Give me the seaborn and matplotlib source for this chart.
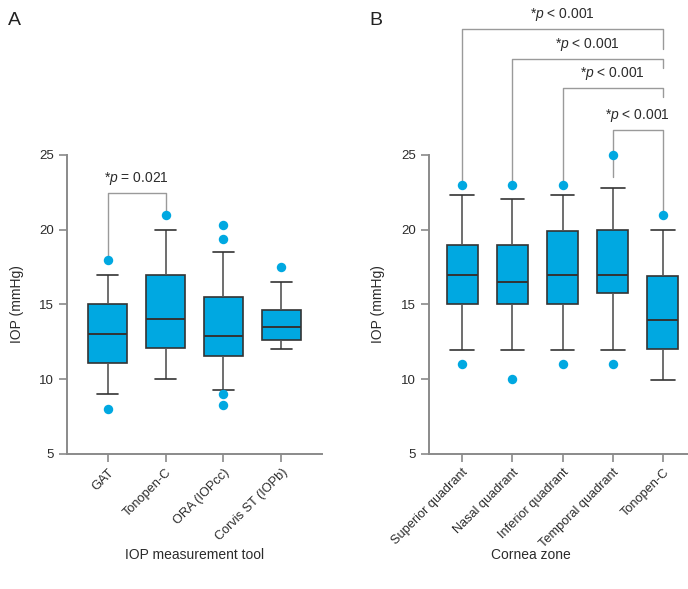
import numpy as np
import pandas as pd
import matplotlib
matplotlib.use('Agg')
import matplotlib.pyplot as plt
import seaborn as sns

tools = ['GAT', 'Tonopen-C', 'ORA (IOPcc)', 'Corvis ST (IOPb)']
tool_lo = [9.0, 10.0, 9.3, 12.0]
tool_q1 = [11.1, 12.1, 11.55, 12.6]
tool_med = [13.0, 14.0, 12.9, 13.5]
tool_q3 = [15.0, 17.0, 15.5, 14.6]
tool_hi = [17.0, 20.0, 18.5, 16.5]
tool_out_cat = ['GAT', 'GAT', 'Tonopen-C', 'ORA (IOPcc)', 'ORA (IOPcc)',
                'ORA (IOPcc)', 'ORA (IOPcc)', 'Corvis ST (IOPb)']
tool_out_val = [18.0, 8.0, 21.0, 20.3, 19.4, 9.0, 8.3, 17.5]

# Panel B - cornea zones
zones = ['Superior quadrant', 'Nasal quadrant', 'Inferior quadrant',
         'Temporal quadrant', 'Tonopen-C']
zone_lo = [11.95, 11.95, 11.95, 11.95, 9.95]
zone_q1 = [15.05, 15.0, 15.0, 15.8, 12.05]
zone_med = [17.0, 16.5, 17.0, 17.0, 13.95]
zone_q3 = [18.95, 18.95, 19.93, 19.95, 16.93]
zone_hi = [22.3, 22.05, 22.3, 22.8, 20.0]
zone_out_cat = ['Superior quadrant', 'Superior quadrant', 'Nasal quadrant',
                'Nasal quadrant', 'Inferior quadrant', 'Inferior quadrant',
                'Temporal quadrant', 'Temporal quadrant', 'Tonopen-C']
zone_out_val = [23.0, 11.0, 23.0, 10.0, 23.0, 11.0, 25.0, 11.0, 21.0]

# significance brackets: (i, j, bar level, left end, right end, label)
tool_sig = [(0, 1, 22.45, 18.1, 21.0, r'*$\mathit{p}$ = 0.021')]
zone_sig = [(0, 4, 33.4, 23.0, 32.1, r'*$\mathit{p}$ < 0.001'),
            (1, 4, 31.4, 23.0, 30.85, r'*$\mathit{p}$ < 0.001'),
            (2, 4, 29.45, 23.0, 28.85, r'*$\mathit{p}$ < 0.001'),
            (3, 4, 26.65, 23.5, 21.0, r'*$\mathit{p}$ < 0.001')]

sns.set_style('ticks')
plt.rcParams['font.family'] = ['Liberation Sans', 'DejaVu Sans']
plt.rcParams['mathtext.fontset'] = 'custom'
plt.rcParams['mathtext.rm'] = 'Liberation Sans'
plt.rcParams['mathtext.it'] = 'Liberation Sans:italic'

BLUE = '#00a8e1'
EDGE = '#333333'
AXC = '#8a8a8a'
TXT = '#2b2b2b'


def summary_frame(cats, lo, q1, med, q3, hi):
    # 5 points per group -> quartiles/median land exactly on the read values
    rows = []
    for c, a, b, m, d, e in zip(cats, lo, q1, med, q3, hi):
        for v in (a, b, m, d, e):
            rows.append({'group': c, 'iop': v})
    return pd.DataFrame(rows)


def draw_panel(ax, cats, lo, q1, med, q3, hi, out_cat, out_val, sig,
               width, capw, xlim, xlabel, xlabel_x):
    df = summary_frame(cats, lo, q1, med, q3, hi)
    sns.boxplot(data=df, x='group', y='iop', order=cats, whis=(0, 100),
                width=width, color=BLUE, saturation=1, linecolor=EDGE,
                linewidth=1.2, capwidths=capw,
                whiskerprops={'color': '#555555', 'linewidth': 1.2},
                capprops={'color': EDGE, 'linewidth': 1.2},
                medianprops={'color': EDGE, 'linewidth': 1.4},
                ax=ax)
    sns.stripplot(x=out_cat, y=out_val, order=cats, jitter=False, color=BLUE,
                  size=6.8, linewidth=0, ax=ax, zorder=4)
    for coll in ax.collections:
        coll.set_clip_on(False)

    for i, j, top, lend, rend, lab in sig:
        ax.plot([i, i, j, j], [lend, top, top, rend], color='#9a9a9a',
                lw=1.0, clip_on=False, zorder=1.5)
        ax.text((i + j) / 2, top + 0.4, lab, ha='center', va='bottom',
                fontsize=10, color=TXT, clip_on=False)

    ax.set_xlim(*xlim)
    ax.set_ylim(5, 25)
    ax.set_yticks([5, 10, 15, 20, 25])
    ax.set_xticks(range(len(cats)))
    ax.set_xticklabels(cats, rotation=45, ha='right', rotation_mode='anchor')
    sns.despine(ax=ax)
    for s in ('left', 'bottom'):
        ax.spines[s].set_color(AXC)
        ax.spines[s].set_linewidth(1.4)
    ax.tick_params(axis='both', colors=AXC, labelcolor=TXT, length=6,
                   width=1.2, labelsize=9.5)
    ax.tick_params(axis='x', pad=3, labelsize=9.2)
    ax.set_xlabel(xlabel, fontsize=10, color=TXT)
    ax.set_ylabel('IOP (mmHg)', fontsize=10, color=TXT)
    ax.xaxis.set_label_coords(xlabel_x, -0.315)
    ax.yaxis.set_label_coords(-0.168, 0.5)


W, H = 688, 589
fig = plt.figure(figsize=(W / 100, H / 100), dpi=100)
axA = fig.add_axes([67 / W, (H - 454) / H, (322 - 67) / W, (454 - 155) / H])
axB = fig.add_axes([429 / W, (H - 454) / H, (688 - 429) / W, (454 - 155) / H])

draw_panel(axA, tools, tool_lo, tool_q1, tool_med, tool_q3, tool_hi,
           tool_out_cat, tool_out_val, tool_sig, 0.66, 0.37, (-0.7, 3.7),
           'IOP measurement tool', 0.5)
draw_panel(axB, zones, zone_lo, zone_q1, zone_med, zone_q3, zone_hi,
           zone_out_cat, zone_out_val, zone_sig, 0.62, 0.47, (-0.66, 4.5),
           'Cornea zone', 0.394)

fig.text(8 / W, 1 - 25 / H, 'A', fontsize=14, color='#222222', va='baseline')
fig.text(369 / W, 1 - 25 / H, 'B', fontsize=14, color='#222222', va='baseline')

fig.savefig('out.png', dpi=100)
